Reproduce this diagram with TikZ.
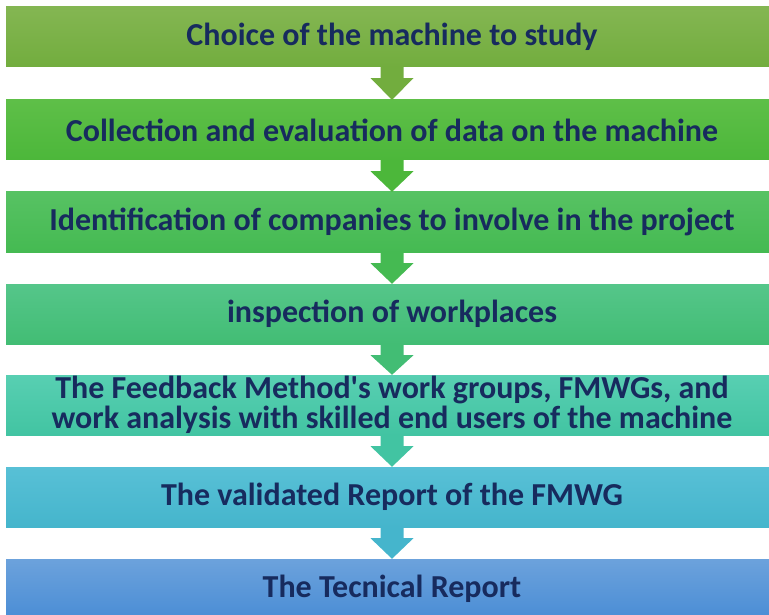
\documentclass[tikz,border=0pt]{standalone}
\usepackage{fontspec}
\setmainfont{Carlito}
\usetikzlibrary{calc}

\definecolor{txt}{HTML}{172B5E}
% box shades, top / bottom
\definecolor{gA}{HTML}{84B652}\definecolor{gAd}{HTML}{72AD3E}
\definecolor{gB}{HTML}{5EBF48}\definecolor{gBd}{HTML}{4CB73A}
\definecolor{gC}{HTML}{57C263}\definecolor{gCd}{HTML}{45BA52}
\definecolor{gD}{HTML}{55C68A}\definecolor{gDd}{HTML}{42BD74}
\definecolor{gE}{HTML}{58CFB2}\definecolor{gEd}{HTML}{42C4A2}
\definecolor{gF}{HTML}{58C0D6}\definecolor{gFd}{HTML}{45B5CC}
\definecolor{gG}{HTML}{6CA2DC}\definecolor{gGd}{HTML}{4A8DD5}

\tikzset{
  stage/.style={minimum width=772pt, minimum height=60pt, inner sep=0pt,
    align=center, text=txt, font=\fontsize{32}{30}\selectfont\bfseries,
    top color=#1, bottom color=#1d},
}

\begin{document}
\begin{tikzpicture}[x=1pt,y=-1pt]
	\useasboundingbox (0,0) rectangle (769,615);
	\path
	(392,37) node[stage=gA] (b1) {Choice of the machine to study}
	(392,130) node[stage=gB] (b2) {Collection and evaluation of data on the machine}
	(392,222) node[stage=gC] (b3) {Identification of companies to involve in the project}
	(392,314) node[stage=gD] (b4) {inspection of workplaces}
	(392,405) node[stage=gE] (b5) {The Feedback Method\textquotesingle s work groups, FMWGs, and\\work analysis with skilled end users of the machine}
	(392,497) node[stage=gF] (b6) {The validated Report of the FMWG}
	(392,589) node[stage=gG] (b7) {The Tecnical Report}
	;
	% block arrows between the stages
	\foreach \a/\b/\c in {b1/b2/gAd, b2/b3/gBd, b3/b4/gCd, b4/b5/gDd, b5/b6/gEd, b6/b7/gFd}
	\fill[\c] ($(\a.south)+(-11.5,0)$) -- ($(\a.south)+(11.5,0)$) -- ++(0,11) -- ++(10,0)
		-- (\b.north) -- ($(\a.south)+(-21.5,11)$) -- ($(\a.south)+(-11.5,11)$) -- cycle;
\end{tikzpicture}
\end{document}
